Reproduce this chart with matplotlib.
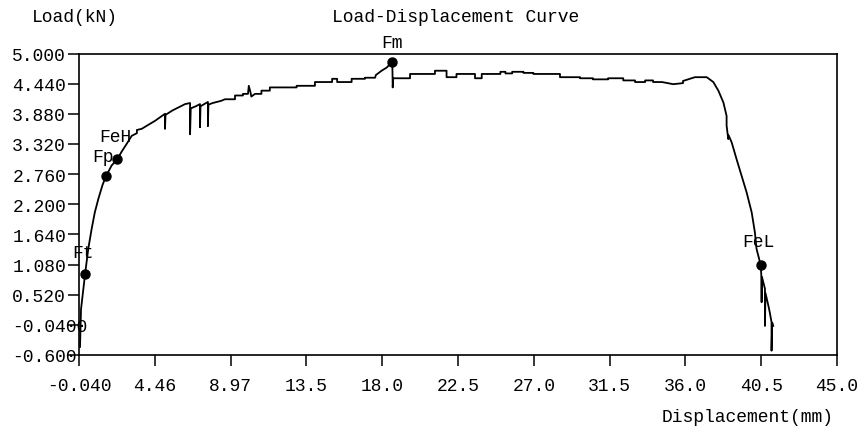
import matplotlib
matplotlib.use("Agg")
import matplotlib.pyplot as plt
import numpy as np

# load-displacement curve
disp = [0.02, 0.08, 0.22, 0.32, 0.51, 0.71, 0.90, 1.11, 1.35, 1.56, 1.90, 2.24,
        2.50, 2.79, 3.09, 3.40, 3.40, 3.68, 4.00, 4.48, 4.80, 5.07, 5.07, 5.10,
        5.50, 6.00, 6.26, 6.56, 6.56, 6.60, 6.90, 7.15, 7.15, 7.18, 7.40, 7.62,
        7.62, 7.65, 7.90, 8.14, 8.40, 8.63, 9.23, 9.23, 9.70, 9.70, 10.00, 10.05,
        10.15, 10.20, 10.42, 10.80, 10.80, 11.30, 11.30, 12.89, 12.89, 13.98,
        13.98, 15.00, 15.00, 15.30, 15.30, 16.16, 16.16, 16.95, 16.95, 17.55,
        17.60, 17.94, 18.25, 18.54, 18.58, 18.60, 18.63, 19.63, 19.63, 21.11,
        21.11, 21.80, 21.80, 22.39, 22.39, 23.49, 23.49, 23.89, 23.89, 25.00,
        25.00, 25.30, 25.30, 25.70, 25.70, 26.37, 26.37, 26.96, 26.96, 28.54,
        28.54, 29.73, 29.73, 30.50, 30.50, 31.40, 31.40, 32.30, 32.30, 33.00,
        33.00, 33.60, 33.60, 34.07, 34.07, 34.60, 35.27, 35.85, 35.85, 36.26,
        36.56, 37.26, 37.65, 37.95, 38.25, 38.44, 38.44, 38.54, 38.56, 38.74,
        39.03, 39.33, 39.63, 39.93, 40.12, 40.22, 40.46, 40.50, 40.52, 40.54,
        40.72, 40.72, 40.75, 40.92, 41.00, 41.11, 41.11, 41.15, 41.21]
load = [-0.45, 0.25, 0.63, 0.90, 1.37, 1.74, 2.05, 2.30, 2.55, 2.72, 2.92, 3.04,
        3.18, 3.32, 3.47, 3.52, 3.58, 3.60, 3.66, 3.75, 3.82, 3.88, 3.60, 3.86,
        3.94, 4.02, 4.06, 4.08, 3.50, 3.98, 4.02, 4.06, 3.63, 4.02, 4.06, 4.10,
        3.65, 4.05, 4.08, 4.10, 4.12, 4.15, 4.15, 4.22, 4.22, 4.25, 4.25, 4.40,
        4.28, 4.20, 4.25, 4.25, 4.31, 4.31, 4.37, 4.37, 4.40, 4.40,
        4.47, 4.47, 4.53, 4.53, 4.47, 4.47, 4.53, 4.53, 4.55, 4.55,
        4.60, 4.68, 4.74, 4.84, 4.80, 4.37, 4.54, 4.54, 4.62, 4.62,
        4.68, 4.68, 4.56, 4.56, 4.62, 4.62, 4.54, 4.54, 4.62, 4.62,
        4.66, 4.66, 4.63, 4.63, 4.66, 4.66, 4.64, 4.64, 4.62, 4.62,
        4.56, 4.56, 4.54, 4.54, 4.52, 4.52, 4.54, 4.54, 4.50, 4.50,
        4.47, 4.47, 4.50, 4.50, 4.47, 4.47, 4.43, 4.45, 4.49, 4.53,
        4.56, 4.56, 4.47, 4.31, 4.09, 3.84, 3.66, 3.41, 3.48, 3.35,
        3.04, 2.73, 2.42, 2.05, 1.68, 1.37, 1.08, 0.90, 0.38, 0.85,
        0.63, -0.06, 0.55, 0.32, 0.20, 0.01, -0.52, 0.00, -0.06]

# characteristic points
pt_names = ["Ft", "Fp", "FeH", "Fm", "FeL"]
pt_disp = [0.32, 1.56, 2.24, 18.54, 40.46]
pt_load = [0.90, 2.72, 3.04, 4.84, 1.08]

xticks = [-0.04, 4.464, 8.968, 13.472, 17.976, 22.48, 26.984, 31.488, 35.992, 40.496, 45.0]
xtick_labels = ["-0.040", "4.46", "8.97", "13.5", "18.0", "22.5", "27.0", "31.5", "36.0", "40.5", "45.0"]
yticks = [-0.6, -0.04, 0.52, 1.08, 1.64, 2.2, 2.76, 3.32, 3.88, 4.44, 5.0]
ytick_labels = ["-0.600", "-0.0400", "0.520", "1.080", "1.640", "2.200", "2.760",
                "3.320", "3.880", "4.440", "5.000"]

plt.rcParams['font.family'] = ['Liberation Mono', 'DejaVu Sans Mono']
fs = 13

fig = plt.figure(figsize=(8.64, 4.35), dpi=100)
ax = fig.add_axes([79/864, 1-356/435, (837-79)/864, (356-54.5)/435])

ax.plot(disp, load, color='black', lw=1.3)
ax.plot(pt_disp, pt_load, 'o', color='black', ms=6.5)

offs = {"Ft": (-2, 22), "Fp": (-3, 20), "FeH": (-2, 23), "Fm": (0, 20), "FeL": (-2, 23)}
for n, x, y in zip(pt_names, pt_disp, pt_load):
    ax.annotate(n, xy=(x, y), xytext=offs[n], textcoords='offset pixels',
                ha='center', va='center', fontsize=fs, annotation_clip=False)

ax.set_xlim(-0.04, 45.0)
ax.set_ylim(-0.6, 5.0)
ax.set_xticks(xticks)
ax.set_xticklabels(xtick_labels, fontsize=fs)
ax.set_yticks(yticks)
ax.set_yticklabels(ytick_labels, fontsize=fs, ha='left')
ax.tick_params(axis='x', direction='out', length=8, width=1.1, pad=8)
ax.tick_params(axis='y', direction='out', length=8, width=1.1, pad=40)
for s in ax.spines.values():
    s.set_linewidth(1.2)

fig.text(75/864, 1-18/435, "Load(kN)", ha='center', va='center', fontsize=fs)
fig.text(456/864, 1-18/435, "Load-Displacement Curve", ha='center', va='center', fontsize=fs)
fig.text(834/864, 1-418/435, "Displacement(mm)", ha='right', va='center', fontsize=fs)

fig.savefig("out.png", dpi=100)
